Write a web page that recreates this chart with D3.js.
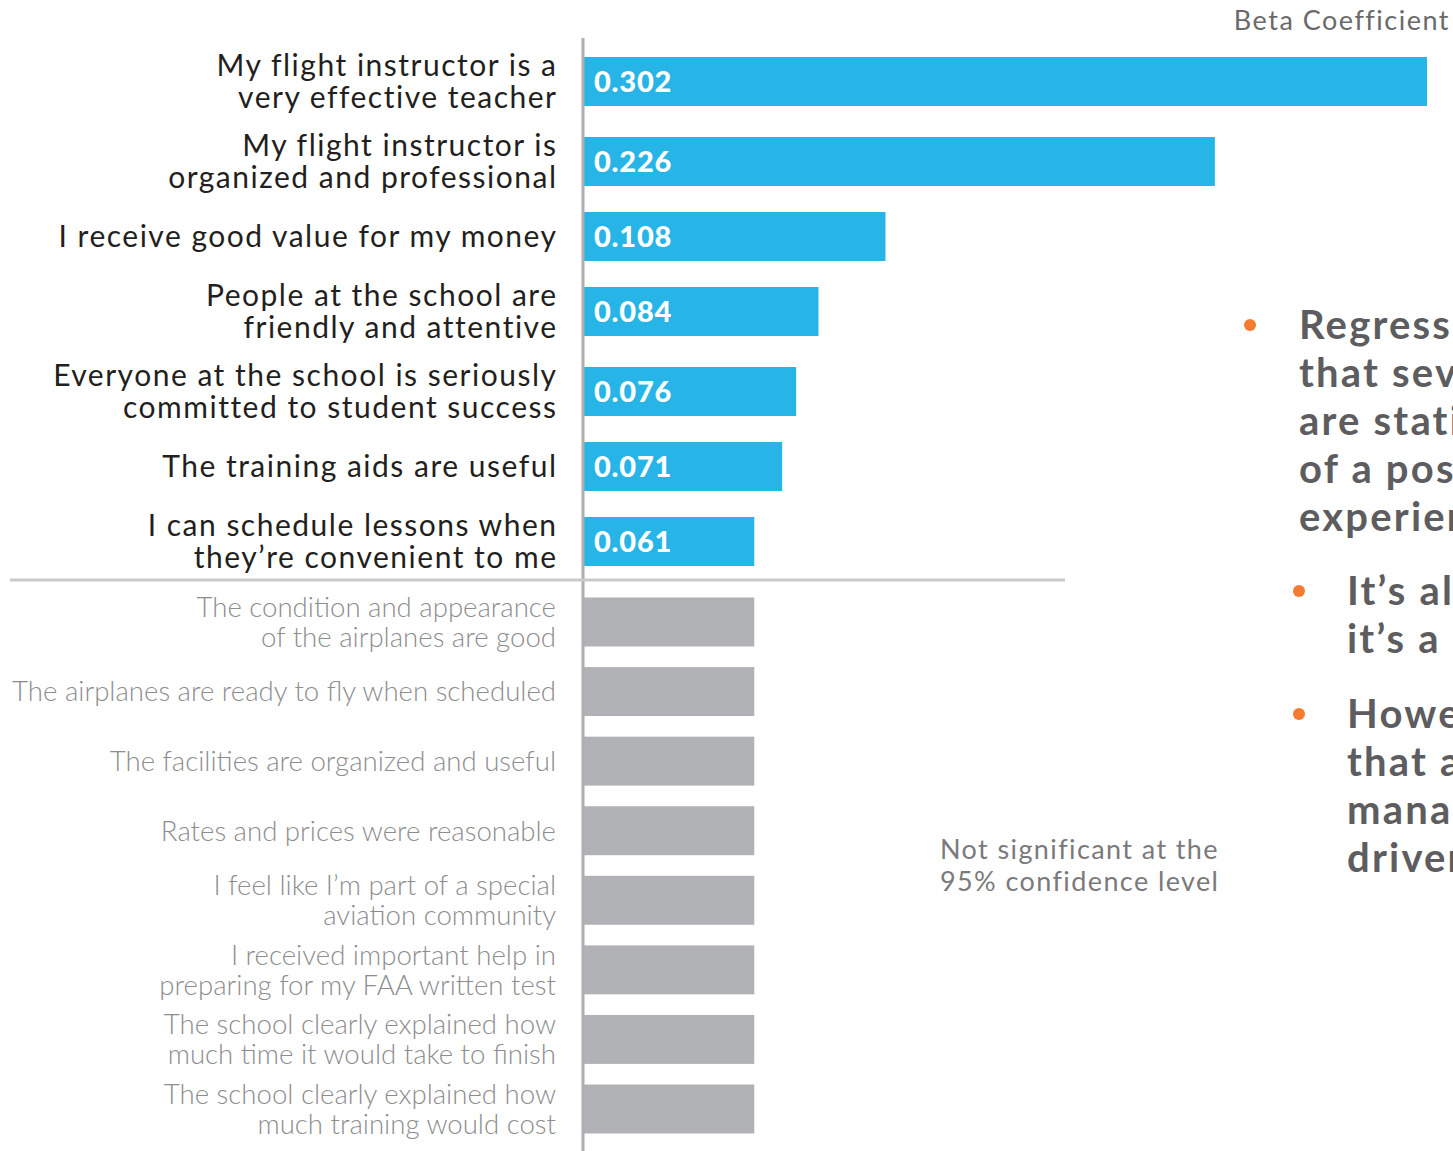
<!DOCTYPE html>
<html>
<head>
<meta charset="utf-8">
<script src="https://cdn.jsdelivr.net/npm/d3@7"></script>
<style>
  html, body { margin: 0; padding: 0; background: #fff; overflow: hidden; }
  svg { display: block; }
</style>
</head>
<body>
<svg id="chart" width="1453" height="1151"></svg>
<script>
// Significant drivers (label lines) and their beta coefficients
const sigLabels = [
  ["My flight instructor is a", "very effective teacher"],
  ["My flight instructor is", "organized and professional"],
  ["I receive good value for my money"],
  ["People at the school are", "friendly and attentive"],
  ["Everyone at the school is seriously", "committed to student success"],
  ["The training aids are useful"],
  ["I can schedule lessons when", "they\u2019re convenient to me"]
];
const sigValues = [0.302, 0.226, 0.108, 0.084, 0.076, 0.071, 0.061];

// Attributes not significant at the 95% level (drawn at a uniform placeholder length)
const nsLabels = [
  ["The condition and appearance", "of the airplanes are good"],
  ["The airplanes are ready to fly when scheduled"],
  ["The facilities are organized and useful"],
  ["Rates and prices were reasonable"],
  ["I feel like I\u2019m part of a special", "aviation community"],
  ["I received important help in", "preparing for my FAA written test"],
  ["The school clearly explained how", "much time it would take to finish"],
  ["The school clearly explained how", "much training would cost"]
];
const nsValues = [0.061, 0.061, 0.061, 0.061, 0.061, 0.061, 0.061, 0.061];

// Commentary bullets beside the chart
const mainBullet = ["Regression analysis shows", "that several attributes", "are statistically significant", "of a positive training", "experience"];
const subBullets = [
  ["It\u2019s also worth noting", "it\u2019s a clear priority"],
  ["However, it\u2019s clear", "that airplane", "management is not a", "driver"]
];

const axisTitle = "Beta Coefficient";
const nsNote = ["Not significant at the", "95% confidence level"];

const svg = d3.select("#chart");
const x0 = 584;
const x = d3.scaleLinear().domain([0, 0.302]).range([x0, 1427]);

// Rows with two-line labels get a little more room than single-line rows
const rowUnits = sigLabels.map(l => (l.length > 1 ? 8 : 7));
const rowCenters = rowUnits.map((u, i) => d3.sum(rowUnits.slice(0, i)) + u / 2);
const ySigC = d3.scaleLinear().domain([rowCenters[0], rowCenters[rowCenters.length - 1]])
  .range([81.5, 541.5]);
const barH = 49;

const yNs = d3.scaleBand().domain(d3.range(nsValues.length))
  .range([587.2, 1143.8]).paddingInner(0.296).paddingOuter(0.148);

const blue = "#27b5e8", grey = "#b1b2b5";
const labelFont = "Lato, 'Open Sans', sans-serif";

// Significant bars
svg.append("g").selectAll("rect").data(sigValues).join("rect")
  .attr("x", x0).attr("y", (d, i) => ySigC(rowCenters[i]) - barH / 2)
  .attr("width", d => x(d) - x0).attr("height", barH)
  .attr("fill", blue);

svg.append("g").selectAll("text").data(sigValues).join("text")
  .attr("x", x0 + 10).attr("y", (d, i) => ySigC(rowCenters[i]))
  .attr("dy", "0.36em")
  .attr("fill", "#fff").attr("font-family", labelFont).attr("font-weight", 900)
  .attr("font-size", 29).attr("letter-spacing", 0.8)
  .text(d => d.toFixed(3));

// Non-significant bars
svg.append("g").selectAll("rect").data(nsValues).join("rect")
  .attr("x", x0).attr("y", (d, i) => yNs(i))
  .attr("width", d => x(d) - x0).attr("height", yNs.bandwidth())
  .attr("fill", grey);

// Category labels
function drawLabels(labels, centerOf, lineGap, fill, weight, size, spacing) {
  const g = svg.append("g").attr("font-family", labelFont).attr("text-anchor", "end")
    .attr("fill", fill).attr("font-weight", weight).attr("font-size", size)
    .attr("letter-spacing", spacing);
  labels.forEach((lines, i) => {
    const cy = centerOf(i);
    lines.forEach((ln, j) => {
      g.append("text").attr("x", 556 + spacing)
        .attr("y", cy + (j - (lines.length - 1) / 2) * lineGap)
        .attr("dy", "0.36em").text(ln);
    });
  });
}
drawLabels(sigLabels, i => ySigC(rowCenters[i]), 32, "#231f20", 400, 30, 1.5);
drawLabels(nsLabels, i => yNs(i) + yNs.bandwidth() / 2, 30, "#8d8d8f", 300, 27.6, 0);

// Axis and divider lines
svg.append("line").attr("x1", 583).attr("x2", 583).attr("y1", 38).attr("y2", 1151)
  .attr("stroke", "#aeaeb0").attr("stroke-width", 3);
svg.append("line").attr("x1", 10).attr("x2", 1065).attr("y1", 580).attr("y2", 580)
  .attr("stroke", "#c9c9cb").attr("stroke-width", 3);

// Axis title
svg.append("text").attr("x", 1450).attr("y", 20).attr("dy", "0.36em")
  .attr("text-anchor", "end").attr("font-family", labelFont).attr("font-size", 27)
  .attr("letter-spacing", 1.5).attr("fill", "#6a6a6a").text(axisTitle);

// Significance note
const note = svg.append("text").attr("font-family", labelFont).attr("font-size", 27)
  .attr("letter-spacing", 1.4).attr("fill", "#7a7a7c");
nsNote.forEach((ln, j) => note.append("tspan").attr("x", 940).attr("y", 849 + j * 32)
  .attr("dy", "0.36em").text(ln));

// Commentary bullets
const orange = "#f47b30", dark = "#5d5d5f";
function bullet(dotX, textX, yStart, lines) {
  svg.append("circle").attr("cx", dotX).attr("cy", yStart).attr("r", 6).attr("fill", orange);
  const t = svg.append("text").attr("font-family", labelFont).attr("font-weight", 700)
    .attr("font-size", 40).attr("letter-spacing", 2.2).attr("fill", dark);
  lines.forEach((ln, j) => t.append("tspan").attr("x", textX).attr("y", yStart + j * 48)
    .attr("dy", "0.36em").text(ln));
}
bullet(1250, 1299, 325, mainBullet);
bullet(1299, 1347, 591, subBullets[0]);
bullet(1299, 1347, 714, subBullets[1]);
</script>
</body>
</html>
